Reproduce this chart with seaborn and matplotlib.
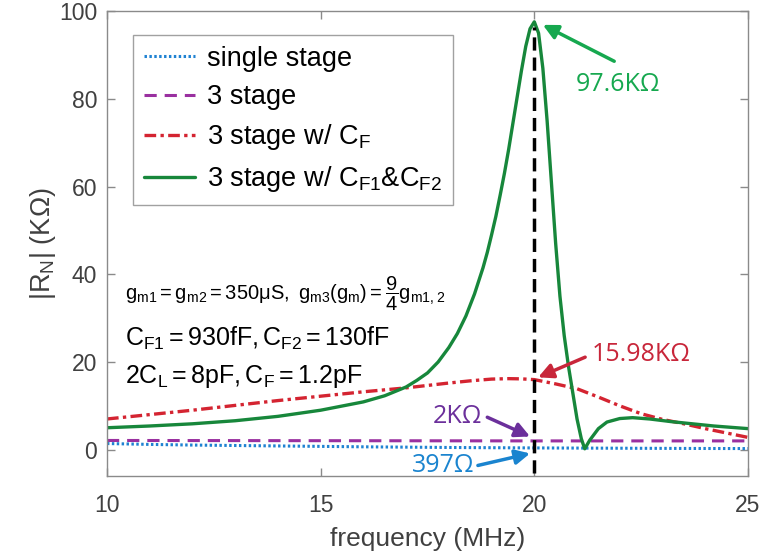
import matplotlib
matplotlib.use("Agg")
import matplotlib.pyplot as plt
import seaborn as sns

# ---------------- data ----------------
freq_single = [10, 11, 12, 13, 14, 16, 18, 20, 22, 23.5, 25]
rn_single = [1.4, 1.2, 1.05, 0.95, 0.85, 0.65, 0.5, 0.397, 0.33, 0.28, 0.25]

freq_3stage = [10, 15, 20, 25]
rn_3stage = [2.1, 2.05, 2.0, 2.0]

freq_cf = [10, 11, 12, 13, 14, 15, 16, 17, 18, 18.5, 19, 19.4, 19.7, 20,
           20.5, 21, 21.5, 22, 22.5, 23, 23.5, 24, 24.5, 25]
rn_cf = [7.0, 8.0, 9.0, 10.1, 11.2, 12.2, 13.2, 14.1, 15.2, 15.7, 16.1, 16.2,
         16.15, 15.98, 15.0, 13.9, 12.0, 10.0, 8.2, 6.9, 5.9, 4.8, 3.8, 2.8]

freq_cf12 = [10, 11, 12, 13, 14, 15, 16, 16.5, 17, 17.25, 17.5, 17.75, 18,
             18.2, 18.4, 18.6, 18.8, 18.9, 19.0, 19.1, 19.2, 19.3, 19.4, 19.5,
             19.6, 19.7, 19.8, 19.9, 20.0, 20.1, 20.2, 20.3, 20.4, 20.5, 20.6,
             20.7, 20.8, 20.9, 21.0, 21.1, 21.18, 21.3, 21.5, 21.7, 22.0, 22.3,
             22.7, 23.2, 23.7, 24.2, 24.6, 25]
rn_cf12 = [5.0, 5.4, 5.9, 6.6, 7.6, 9.0, 10.9, 12.3, 14.3, 15.8, 17.5, 20.0,
           23.3, 26.5, 30.5, 35.5, 41.5, 45.0, 49.0, 53.2, 58.0, 63.0, 68.5,
           74.5, 80.5, 86.5, 92.0, 96.0, 97.6, 95.0, 87.0, 75.0, 61.0, 47.0,
           35.0, 26.0, 19.0, 13.0, 7.0, 2.5, 0.2, 2.2, 4.8, 6.3, 7.1, 7.3, 7.0,
           6.4, 5.9, 5.4, 5.1, 4.8]

series_labels = ["single stage", "3 stage", r"3 stage w/ C$_\mathregular{F}$",
                 r"3 stage w/ C$_\mathregular{F1}$&C$_\mathregular{F2}$"]

x_ticks = [10, 15, 20, 25]
y_ticks = [0, 20, 40, 60, 80, 100]

marker_freq = 20
peak_label = "97.6KΩ"
cf_label = "15.98KΩ"
stage3_label = "2KΩ"
single_label = "397Ω"

# ---------------- style ----------------
sns.set_theme(style="white")
plt.rcParams["font.family"] = ["Liberation Sans", "DejaVu Sans"]
plt.rcParams["mathtext.fontset"] = "custom"
plt.rcParams["mathtext.rm"] = "Liberation Sans"
plt.rcParams["mathtext.it"] = "Liberation Sans:italic"
plt.rcParams["mathtext.bf"] = "Liberation Sans:bold"

c_blue = "#1f82d2"
c_purple = "#9a30a0"
c_red = "#d42431"
c_green = "#17873b"
axis_gray = "#8a8a8a"
label_gray = "#404040"

fig = plt.figure(figsize=(7.63, 5.58), dpi=100)
ax = fig.add_axes([0.1402, 0.1470, 0.8401, 0.8328])

sns.lineplot(x=freq_single, y=rn_single, ax=ax, color=c_blue, lw=2.2,
             linestyle=(0, (0.8, 0.8)), label=series_labels[0])
sns.lineplot(x=freq_3stage, y=rn_3stage, ax=ax, color=c_purple, lw=2.2,
             linestyle=(0, (4, 2.6)), label=series_labels[1])
sns.lineplot(x=freq_cf, y=rn_cf, ax=ax, color=c_red, lw=2.4,
             linestyle=(0, (3.5, 1.3, 1.0, 1.3)), label=series_labels[2])
sns.lineplot(x=freq_cf12, y=rn_cf12, ax=ax, color=c_green, lw=2.4,
             linestyle="-", label=series_labels[3])

ax.vlines(marker_freq, -5.4, 96.3, colors="black", lw=2.5,
          linestyles=[(0, (3.8, 2.0))], zorder=5)

ax.set_xlim(10, 25)
ax.set_ylim(-6, 100)
ax.set_xticks(x_ticks)
ax.set_yticks(y_ticks)

for s in ax.spines.values():
    s.set_color(axis_gray)
    s.set_linewidth(1.0)
ax.tick_params(direction="in", length=6, width=1.0, color=axis_gray,
               labelcolor=label_gray, labelsize=16.5,
               top=True, right=True, bottom=True, left=True)
ax.tick_params(axis="x", pad=13)
ax.tick_params(axis="y", pad=7)

ax.set_xlabel("frequency (MHz)", fontsize=19, color=label_gray, labelpad=7)
ax.set_ylabel(r"|R$_\mathregular{N}$| (KΩ)", fontsize=19.5, color=label_gray,
              labelpad=1)

leg = ax.legend(loc="upper left", bbox_to_anchor=(0.0406, 0.949),
                frameon=True, fancybox=False, fontsize=19.5,
                handlelength=1.9, handletextpad=0.45, borderpad=0.4,
                labelspacing=0.45, borderaxespad=0)
leg.get_frame().set_edgecolor(axis_gray)
leg.get_frame().set_linewidth(1.0)
for t in leg.get_texts():
    t.set_color("black")

# parameter text block
ax.text(10.42, 34.0,
        r"$\mathregular{g_{m1}=g_{m2}=350\mu S,\ g_{m3}(g_m)=\dfrac{9}{4}g_{m1,2}}$",
        fontsize=14.5, color="black", va="baseline", ha="left")
ax.text(10.42, 23.6,
        r"$\mathregular{C_{F1}=930fF,C_{F2}=130fF}$",
        fontsize=18, color="black", va="baseline", ha="left")
ax.text(10.42, 15.2,
        r"$\mathregular{2C_{L}=8pF,C_{F}=1.2pF}$",
        fontsize=18, color="black", va="baseline", ha="left")

# annotations
ann_font = ["Open Sans", "DejaVu Sans"]
arrow_kw = dict(arrowstyle="-|>", lw=2.5, mutation_scale=22, shrinkA=0, shrinkB=0)

ax.annotate("", xy=(20.20, 96.9), xytext=(21.87, 88.6),
            arrowprops=dict(color="#16a84f", **arrow_kw))
ax.text(21.96, 83.2, peak_label, color="#16a84f", fontsize=18,
        family=ann_font, ha="center", va="center")

ax.annotate("", xy=(20.09, 16.5), xytext=(21.19, 21.1),
            arrowprops=dict(color="#c8263a", **arrow_kw))
ax.text(22.5, 21.8, cf_label, color="#c8263a", fontsize=18,
        family=ann_font, ha="center", va="center")

ax.annotate("", xy=(19.9, 3.0), xytext=(18.9, 7.4),
            arrowprops=dict(color="#6b2f9b", **arrow_kw))
ax.text(18.21, 7.6, stage3_label, color="#6b2f9b", fontsize=18,
        family=ann_font, ha="center", va="center")

ax.annotate("", xy=(19.9, -0.86), xytext=(18.68, -3.6),
            arrowprops=dict(color="#1a84cf", **arrow_kw))
ax.text(17.86, -3.6, single_label, color="#1a84cf", fontsize=18,
        family=ann_font, ha="center", va="center")

fig.savefig("out.png", dpi=100)
